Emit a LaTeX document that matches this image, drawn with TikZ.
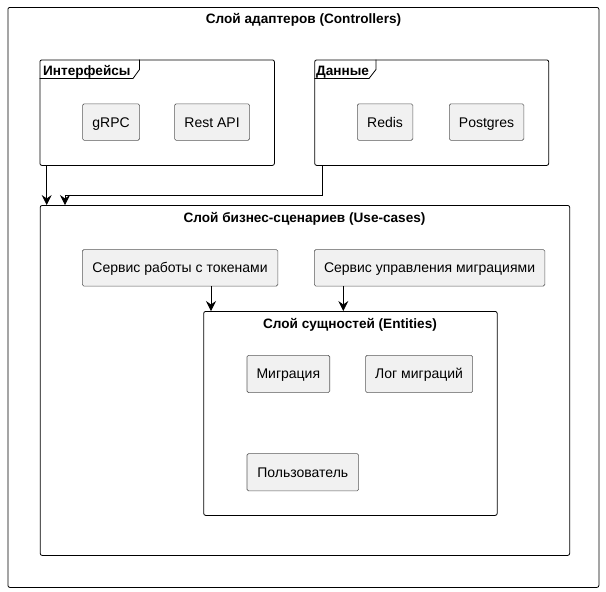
\documentclass[tikz,border=0pt]{standalone}
\usepackage{fontspec}
\setmainfont{Liberation Sans}
\usetikzlibrary{arrows.meta}
\definecolor{boxfill}{HTML}{F1F1F1}
\definecolor{boxline}{HTML}{5A5A5A}
\tikzset{
  comp/.style={draw=boxline,fill=boxfill,rounded corners=1.5pt,line width=0.6pt,inner sep=0pt,
    anchor=north west,text height=10pt,text depth=0pt,font=\fontsize{14}{16}\selectfont},
  frm/.style={draw=black,rounded corners=2pt,line width=0.8pt,inner sep=0pt,anchor=north west},
  ttl/.style={font=\bfseries\fontsize{13.6}{16}\selectfont,inner sep=0pt,text height=10pt,text depth=0pt},
  tab/.style={draw=black,line width=0.8pt},
  conn/.style={draw=black,line width=0.8pt,-{Stealth[length=10pt,width=10pt,inset=3.5pt,line width=0.8pt]}}
}
\begin{document}
\begin{tikzpicture}[x=1pt,y=-1pt]
\useasboundingbox (0,0) rectangle (606,592);
% outer
\node[frm,minimum width=591pt,minimum height=580pt] (outer) at (7.5,7) {};
\node[ttl] (outerT) at (303.5,18.5) {Слой адаптеров (Controllers)};
% Interfaces package
\node[frm,minimum width=234.5pt,minimum height=105.5pt] (ifc) at (39.5,59.5) {};
\draw[tab] (39.5,78.5) -- (133,78.5) -- (139.5,69.5) -- (139.5,59.5);
\node[ttl,anchor=west] (ifcT) at (43,70) {Интерфейсы};
\node[comp,minimum width=57pt,minimum height=36.5pt] (grpc) at (82.3,103.5) {gRPC};
\node[comp,minimum width=75pt,minimum height=36.5pt] (rest) at (174.3,103.5) {Rest API};
% Data package
\node[frm,minimum width=234pt,minimum height=105.5pt] (data) at (314.3,59.5) {};
\draw[tab] (314.3,78.5) -- (369,78.5) -- (376,69.5) -- (376,59.5);
\node[ttl,anchor=west] (dataT) at (316,70) {Данные};
\node[comp,minimum width=55.5pt,minimum height=36.5pt] (redis) at (357,103.5) {Redis};
\node[comp,minimum width=74.5pt,minimum height=36.5pt] (pg) at (449,103.5) {Postgres};
% Use-cases
\node[frm,minimum width=529.5pt,minimum height=350pt] (uc) at (39.8,205) {};
\node[ttl] (ucT) at (304.5,217.5) {Слой бизнес-сценариев (Use-cases)};
\node[comp,minimum width=195.5pt,minimum height=36.5pt] (tok) at (82,249.3) {Сервис работы с токенами};
\node[comp,minimum width=230.5pt,minimum height=36.5pt] (mig) at (314,249.3) {Сервис управления миграциями};
% Entities
\node[frm,minimum width=293.5pt,minimum height=204pt] (ent) at (203.3,311) {};
\node[ttl] (entT) at (350,323.5) {Слой сущностей (Entities)};
\node[comp,minimum width=82.7pt,minimum height=37.3pt] (m) at (246.7,355) {Миграция};
\node[comp,minimum width=107pt,minimum height=37.3pt] (log) at (365.3,355) {Лог миграций};
\node[comp,minimum width=111.6pt,minimum height=37.3pt] (usr) at (246.7,453.3) {Пользователь};
% connectors
\coordinate (c1) at (322.7,195);
\coordinate (c2) at (65,195);
\draw[conn] (ifc.south west -| 46.7,0) -- (uc.north west -| 46.7,0);
\draw[conn] (data.south west -| 322.7,0) -- (c1) -- (c2) -- (uc.north west -| 65,0);
\draw[conn] (tok.south west -| 211,0) -- (ent.north west -| 211,0);
\draw[conn] (mig.south west -| 343.3,0) -- (ent.north west -| 343.3,0);
\end{tikzpicture}
\end{document}
